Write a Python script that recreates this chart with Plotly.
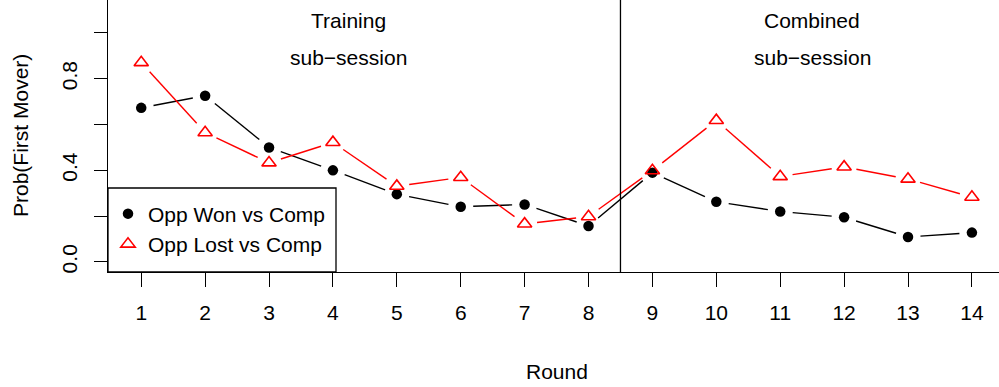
import math
import plotly.graph_objects as go

# ---- data ----
rounds = list(range(1, 15))
opp_won = [0.673, 0.726, 0.500, 0.400, 0.296, 0.241, 0.251, 0.157, 0.390, 0.263, 0.220, 0.195, 0.109, 0.128]
opp_lost = [0.871, 0.565, 0.433, 0.522, 0.331, 0.369, 0.166, 0.198, 0.399, 0.618, 0.373, 0.415, 0.362, 0.283]
tick_labels_y = ["0.0", "", "0.4", "", "0.8", ""]
tick_vals_y = [0.0, 0.2, 0.4, 0.6, 0.8, 1.0]
divider = 8.5
section_labels = [("Training", "sub\u2212session", 4.25), ("Combined", "sub\u2212session", 11.5)]
series_names = ["Opp Won vs Comp", "Opp Lost vs Comp"]

# ---- layout constants ----
W, H = 999, 387
ML, MR, MT, MB = 108, 0, 0, 115
XR = [0.48, 14.424]
YR = [-0.044, 1.144]
FONT = "Liberation Sans, Arial, Helvetica, sans-serif"
FS = 21
GAP = 12.5  # px gap between points and line (R type="b")

sx = (W - ML - MR) / (XR[1] - XR[0])
sy = (H - MT - MB) / (YR[1] - YR[0])


def gapped(xs, ys):
    gx, gy = [], []
    for i in range(len(xs) - 1):
        dx = (xs[i + 1] - xs[i]) * sx
        dy = (ys[i + 1] - ys[i]) * sy
        L = math.hypot(dx, dy)
        if L <= 2 * GAP:
            continue
        f = GAP / L
        gx += [xs[i] + f * (xs[i + 1] - xs[i]), xs[i + 1] - f * (xs[i + 1] - xs[i]), None]
        gy += [ys[i] + f * (ys[i + 1] - ys[i]), ys[i + 1] - f * (ys[i + 1] - ys[i]), None]
    return gx, gy


fig = go.Figure()

for ys, color in [(opp_won, "black"), (opp_lost, "#FF0000")]:
    gx, gy = gapped(rounds, ys)
    fig.add_trace(go.Scatter(x=gx, y=gy, mode="lines", line=dict(color=color, width=1.4),
                             showlegend=False, hoverinfo="skip"))

fig.add_trace(go.Scatter(x=rounds, y=opp_won, mode="markers", name=series_names[0],
                         marker=dict(symbol="circle", size=10.5, color="black", line=dict(width=0)),
                         showlegend=True))
fig.add_trace(go.Scatter(x=rounds, y=opp_lost, mode="markers", name=series_names[1],
                         marker=dict(symbol="triangle-up-open", size=12.5, color="#FF0000",
                                     line=dict(width=1.6, color="#FF0000")),
                         showlegend=True))

shapes = [
    dict(type="line", xref="x", yref="paper", x0=divider, x1=divider, y0=0, y1=1,
         line=dict(color="black", width=1.3)),
    dict(type="rect", xref="paper", yref="paper", x0=0, x1=(336 - ML) / (W - ML - MR),
         y0=0, y1=(272 - 188) / (H - MT - MB), fillcolor="white",
         line=dict(color="black", width=1.3), layer="above"),
]

ann = []
for top, bottom, xc in section_labels:
    ann.append(dict(x=xc, y=(261.9 - 20) / sy, xref="x", yref="y", text=top, showarrow=False,
                    font=dict(size=FS, color="black", family=FONT), xanchor="center", yanchor="middle"))
    ann.append(dict(x=xc, y=(261.9 - 57) / sy, xref="x", yref="y", text=bottom, showarrow=False,
                    font=dict(size=FS, color="black", family=FONT), xanchor="center", yanchor="middle"))
ann.append(dict(x=7.5, xref="x", y=(272 - 371) / (H - MT - MB), yref="paper", text="Round",
                showarrow=False, font=dict(size=FS, color="black", family=FONT),
                xanchor="center", yanchor="middle"))
ann.append(dict(x=(20 - ML) / (W - ML - MR), xref="paper", y=0.5, yref="paper",
                text="Prob(First Mover)", textangle=-90, showarrow=False,
                font=dict(size=FS, color="black", family=FONT), xanchor="center", yanchor="middle"))

fig.update_layout(
    width=W, height=H,
    margin=dict(l=ML, r=MR, t=MT, b=MB, pad=0),
    paper_bgcolor="white", plot_bgcolor="white",
    font=dict(family=FONT, size=FS, color="black"),
    shapes=shapes, annotations=ann,
    legend=dict(x=0, y=(272 - 229) / (H - MT - MB), xanchor="left", yanchor="middle",
                bgcolor="rgba(0,0,0,0)", borderwidth=0, font=dict(size=FS, color="black", family=FONT),
                tracegroupgap=0),
    xaxis=dict(range=XR, showline=True, linecolor="black", linewidth=1.3, mirror=True,
               ticks="outside", ticklen=14, tickwidth=1.3, tickcolor="black",
               tickvals=rounds, ticktext=[str(r) for r in rounds], showgrid=False, zeroline=False,
               tickfont=dict(size=FS, color="black", family=FONT), ticklabelstandoff=8),
    yaxis=dict(range=YR, showline=True, linecolor="black", linewidth=1.3, mirror=False,
               ticks="outside", ticklen=13, tickwidth=1.3, tickcolor="black",
               tickvals=tick_vals_y, ticktext=tick_labels_y, tickangle=-90,
               showgrid=False, zeroline=False,
               tickfont=dict(size=FS, color="black", family=FONT), ticklabelstandoff=8),
)

fig.write_html("out.html", config={"displayModeBar": False},
               post_script="document.body.style.margin='0px';")
